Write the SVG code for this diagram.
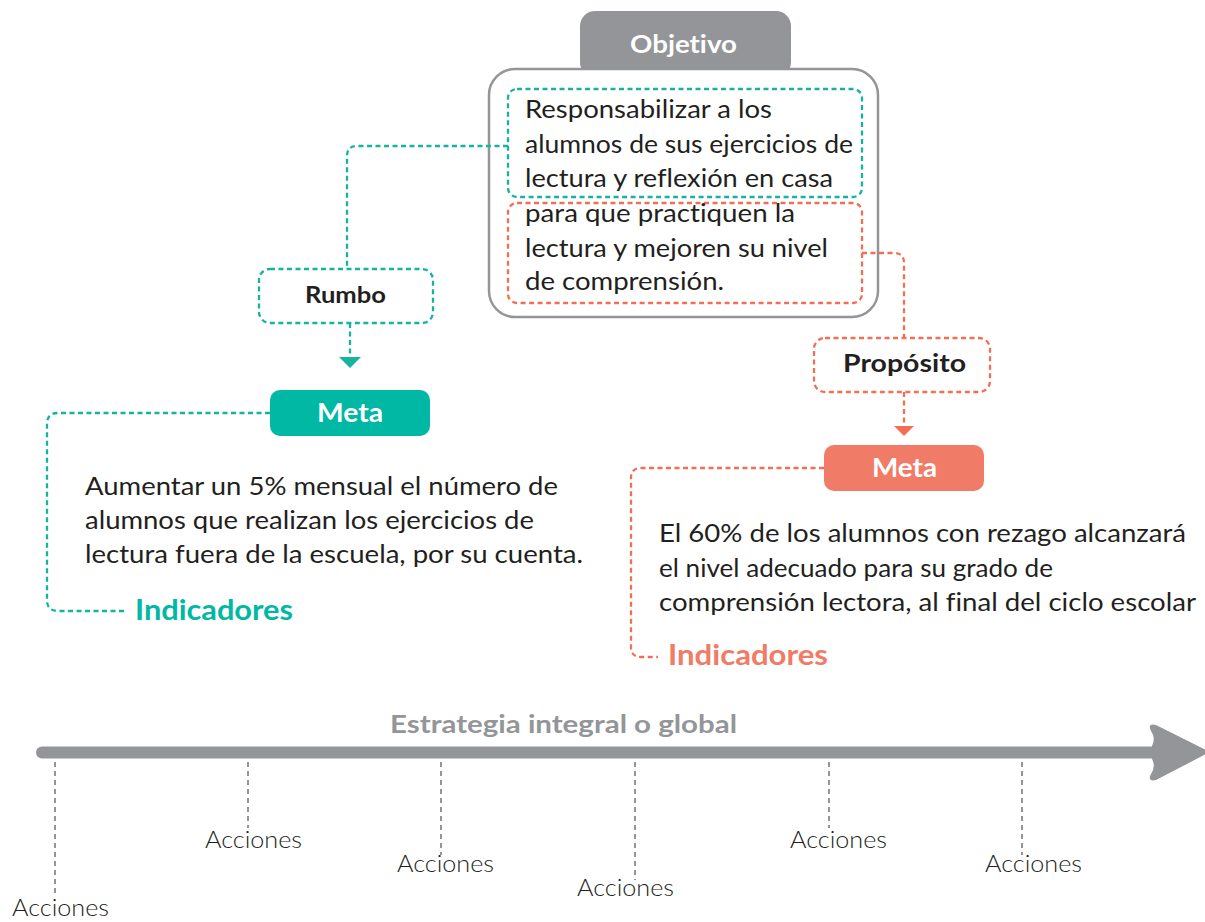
<svg xmlns="http://www.w3.org/2000/svg" width="1205" height="922" viewBox="0 0 1205 922">
<style>
text{font-family:Lato,"Open Sans","Liberation Sans",sans-serif;fill:#231f20;font-variant-ligatures:none}
.body{font-size:25px}
.in{font-size:25.5px}
.b{font-weight:700}
.w{fill:#fff}
.teal{stroke:#16b3a0}
.org{stroke:#f26f55}
.dash{fill:none;stroke-width:2.3;stroke-dasharray:5 3.5}
.acc{font-size:23px;font-weight:300}
.tick{stroke:#939598;stroke-width:2;stroke-dasharray:5 4;fill:none}
</style>
<rect width="1205" height="922" fill="#fff"/>
<g id="objetivo">
<rect x="580" y="11" width="211" height="66" rx="15" fill="#939598"/>
<rect x="489" y="69" width="389" height="248" rx="26" fill="#fff" stroke="#939598" stroke-width="2.5"/>
<text x="630" y="53" class="b w" font-size="25" textLength="107" lengthAdjust="spacingAndGlyphs">Objetivo</text>
</g>
<g id="connectors">
<path class="dash teal" d="M508,146 H357 Q347,146 347,156 V269"/>
<path class="dash teal" d="M350,323 V357"/>
<polygon points="339,357 361,357 350,368" fill="#16b3a0"/>
<path class="dash teal" d="M270,413 H58 Q47,413 47,424 V600 Q47,611 58,611 H127"/>
<path class="dash org" d="M862,253 H894 Q904,253 904,263 V338"/>
<path class="dash org" d="M904,392 V426"/>
<polygon points="894,426 914,426 904,436" fill="#f26f55"/>
<path class="dash org" d="M824,468 H641 Q631,468 631,478 V647 Q631,657 641,657 H658"/>
</g>
<g id="objetivo-texto">
<rect class="dash teal" x="508" y="89" width="354" height="108" rx="9"/>
<rect class="dash org" x="508" y="203" width="354" height="100" rx="9"/>
<text class="in" x="525" y="118" textLength="247" lengthAdjust="spacingAndGlyphs">Responsabilizar a los</text>
<text class="in" x="525" y="153" textLength="328" lengthAdjust="spacingAndGlyphs">alumnos de sus ejercicios de</text>
<text class="in" x="525" y="187" textLength="308" lengthAdjust="spacingAndGlyphs">lectura y reflexión en casa</text>
<text class="in" x="525" y="222" textLength="270" lengthAdjust="spacingAndGlyphs">para que practiquen la</text>
<text class="in" x="525" y="257" textLength="303" lengthAdjust="spacingAndGlyphs">lectura y mejoren su nivel</text>
<text class="in" x="525" y="290" textLength="199" lengthAdjust="spacingAndGlyphs">de comprensión.</text>
</g>
<g id="rumbo">
<rect class="dash teal" x="259" y="269" width="174" height="54" rx="11"/>
<text x="305" y="303" class="b" font-size="22" textLength="81" lengthAdjust="spacingAndGlyphs">Rumbo</text>
</g>
<g id="meta-izq">
<rect x="270" y="390" width="160" height="46" rx="10" fill="#00b8a3"/>
<text x="317" y="422" class="b w" font-size="26" textLength="66" lengthAdjust="spacingAndGlyphs">Meta</text>
</g>
<g id="meta-izq-texto">
<text class="body" x="85" y="495" textLength="473" lengthAdjust="spacingAndGlyphs">Aumentar un 5% mensual el número de</text>
<text class="body" x="85" y="529" textLength="449" lengthAdjust="spacingAndGlyphs">alumnos que realizan los ejercicios de</text>
<text class="body" x="85" y="563" textLength="498" lengthAdjust="spacingAndGlyphs">lectura fuera de la escuela, por su cuenta.</text>
</g>
<g id="indicadores-izq">
<text x="135" y="620" class="b" font-size="28" textLength="158" lengthAdjust="spacingAndGlyphs" style="fill:#00b8a3">Indicadores</text>
</g>
<g id="proposito">
<rect class="dash org" x="814" y="338" width="176" height="54" rx="11"/>
<text x="843" y="372" class="b" font-size="24" textLength="123" lengthAdjust="spacingAndGlyphs">Propósito</text>
</g>
<g id="meta-der">
<rect x="824" y="445" width="160" height="46" rx="10" fill="#f07b66"/>
<text x="872" y="477" class="b w" font-size="26" textLength="65" lengthAdjust="spacingAndGlyphs">Meta</text>
</g>
<g id="meta-der-texto">
<text class="body" x="659" y="542" textLength="527" lengthAdjust="spacingAndGlyphs">El 60% de los alumnos con rezago alcanzará</text>
<text class="body" x="659" y="577" textLength="394" lengthAdjust="spacingAndGlyphs">el nivel adecuado para su grado de</text>
<text class="body" x="659" y="611" textLength="537" lengthAdjust="spacingAndGlyphs">comprensión lectora, al final del ciclo escolar</text>
</g>
<g id="indicadores-der">
<text x="668" y="665" class="b" font-size="28" textLength="160" lengthAdjust="spacingAndGlyphs" style="fill:#f07b66">Indicadores</text>
</g>
<g id="estrategia">
<text x="390" y="733" class="b" font-size="25" textLength="347" lengthAdjust="spacingAndGlyphs" style="fill:#939598">Estrategia integral o global</text>
<line x1="42" y1="752.5" x2="1160" y2="752.5" stroke="#939598" stroke-width="12" stroke-linecap="round"/>
<path d="M1152,746 Q1156,738 1151,731 Q1147,723 1156,725 L1210,752 L1156,780 Q1147,782 1151,774 Q1156,766 1152,759 Z" fill="#939598"/>
</g>
<g id="acciones">
<path class="tick" d="M55,762 V895"/>
<path class="tick" d="M248,762 V828"/>
<path class="tick" d="M441,762 V855"/>
<path class="tick" d="M635,762 V880"/>
<path class="tick" d="M829,762 V828"/>
<path class="tick" d="M1022,762 V855"/>
<text class="acc" x="12" y="916" textLength="97" lengthAdjust="spacingAndGlyphs">Acciones</text>
<text class="acc" x="205" y="848" textLength="97" lengthAdjust="spacingAndGlyphs">Acciones</text>
<text class="acc" x="397" y="872" textLength="97" lengthAdjust="spacingAndGlyphs">Acciones</text>
<text class="acc" x="577" y="896" textLength="97" lengthAdjust="spacingAndGlyphs">Acciones</text>
<text class="acc" x="790" y="848" textLength="97" lengthAdjust="spacingAndGlyphs">Acciones</text>
<text class="acc" x="985" y="872" textLength="97" lengthAdjust="spacingAndGlyphs">Acciones</text>
</g>
</svg>
